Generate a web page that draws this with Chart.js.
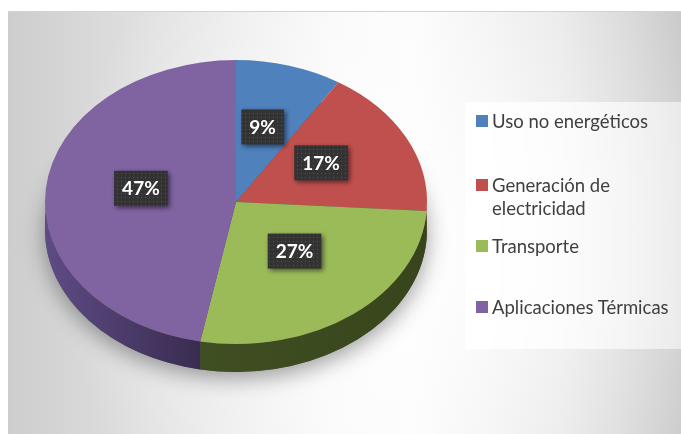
<!DOCTYPE html>
<html lang="es">
<head>
<meta charset="utf-8">
<title>Consumo de energía por uso</title>
<script src="https://cdn.jsdelivr.net/npm/chart.js@4.4.1/dist/chart.umd.min.js"></script>
<style>
    html, body { margin: 0; padding: 0; background: #fff; }
    body { width: 681px; height: 434px; overflow: hidden; position: relative; font-family: Lato, "Open Sans", sans-serif; }
    .panel {
        position: absolute; left: 8px; top: 11px; width: 673px; height: 423px;
        border-top: 1px solid #d2d2d2;
        background:
            radial-gradient(ellipse 70% 120% at 60% 55%, rgba(255,255,255,0.9) 0%, rgba(255,255,255,0.4) 40%, rgba(255,255,255,0) 75%),
            linear-gradient(to right, #cdcdcd 0%, #e2e2e2 22%, #f8f8f8 48%, #fbfbfb 60%, #e6e6e6 82%, #c9c9c9 100%);
    }
    .chart-wrap { position: absolute; left: 0; top: 0; width: 681px; height: 434px; }
    .leyenda {
        position: absolute; left: 465px; top: 102px; width: 216px; height: 247px;
        background: linear-gradient(to right, rgba(255,255,255,0.92), rgba(255,255,255,0.55));
    }
    .item { position: absolute; left: 11px; display: flex; align-items: flex-start; font-size: 18.5px; line-height: 23px; color: #404040; }
    .item .cuadro { width: 12px; height: 12px; margin: 5.5px 4px 0 0; flex: none; }
    .item .txt { width: 190px; }
</style>
</head>
<body>
<div class="panel"></div>
<div class="chart-wrap"><canvas id="chartUsos"></canvas></div>
<div class="leyenda" id="leyenda"></div>

<script>
// Datos del gráfico
const categorias = ["Uso no energéticos", "Generación de electricidad", "Transporte", "Aplicaciones Térmicas"];
const porcentajes = [9, 17, 27, 47];
const colores = ["#4F81BD", "#C0504D", "#9BBB59", "#8064A2"];
// Colores del canto (claro -> oscuro) para el efecto 3D
const coloresCanto = [
    ["#30588c", "#213d62"],
    ["#8c3432", "#602221"],
    ["#404f22", "#38451c"],
    ["#5e4b85", "#3a2c50"]
];

const INCLINACION = 0.743;   // aplastamiento vertical del disco
const GROSOR = 28;           // alto del canto en px

// Textura punteada para las etiquetas
function crearTrama(ctx) {
    const c = document.createElement("canvas");
    c.width = 4; c.height = 4;
    const g = c.getContext("2d");
    g.fillStyle = "#333333";
    g.fillRect(0, 0, 4, 4);
    g.fillStyle = "#55554a";
    g.fillRect(1, 1, 1, 1);
    return ctx.createPattern(c, "repeat");
}

/* =====================================================
   PLUGIN: TORTA 3D (canto + aplastado + etiquetas)
===================================================== */
const torta3D = {
    id: "torta3D",
    beforeDatasetsDraw(chart) {
        const ctx = chart.ctx;
        const arcos = chart.getDatasetMeta(0).data;
        if (!arcos.length) return;
        const { x: cx, y: cy, outerRadius: r } = arcos[0];
        const ry = r * INCLINACION;

        // sombra bajo el disco
        ctx.save();
        ctx.shadowColor = "rgba(0,0,0,0.38)";
        ctx.shadowBlur = 22;
        ctx.shadowOffsetY = 6;
        ctx.fillStyle = "#555";
        ctx.beginPath();
        ctx.ellipse(cx, cy + GROSOR, r, ry, 0, 0, Math.PI * 2);
        ctx.fill();
        ctx.restore();

        // canto visible (mitad frontal)
        arcos.forEach((arc, i) => {
            const a0 = Math.max(arc.startAngle, 0);
            const a1 = Math.min(arc.endAngle, Math.PI);
            if (a1 <= a0) return;
            const x0 = cx + r * Math.cos(a0);
            const x1 = cx + r * Math.cos(a1);
            const grad = ctx.createLinearGradient(Math.min(x0, x1), 0, Math.max(x0, x1), 0);
            const [claro, oscuro] = coloresCanto[i];
            // el lado izquierdo queda más iluminado
            grad.addColorStop(0, x1 < x0 ? claro : oscuro);
            grad.addColorStop(1, x1 < x0 ? oscuro : claro);
            ctx.save();
            ctx.fillStyle = grad;
            ctx.beginPath();
            ctx.ellipse(cx, cy, r, ry, 0, a0, a1);
            ctx.ellipse(cx, cy + GROSOR, r, ry, 0, a1, a0, true);
            ctx.closePath();
            ctx.fill();
            ctx.restore();
        });

        // cara superior aplastada
        ctx.save();
        ctx.translate(cx, cy);
        ctx.scale(1, INCLINACION);
        ctx.translate(-cx, -cy);
    },
    afterDatasetsDraw(chart) {
        const ctx = chart.ctx;
        ctx.restore();

        const arcos = chart.getDatasetMeta(0).data;
        if (!arcos.length) return;
        const cy = arcos[0].y;
        const datos = chart.data.datasets[0].data;
        const total = datos.reduce((a, b) => a + b, 0);
        const trama = crearTrama(ctx);

        arcos.forEach((arc, i) => {
            const valor = datos[i];
            if (!valor) return;
            const texto = Math.round((valor / total) * 100) + "%";
            const pos = arc.tooltipPosition();
            const px = pos.x;
            const py = cy + (pos.y - cy) * INCLINACION - 7;

            ctx.save();
            ctx.font = "bold 19px Lato";
            const w = ctx.measureText(texto).width + 16;
            const h = 35;
            ctx.shadowColor = "rgba(0,0,0,0.55)";
            ctx.shadowBlur = 5;
            ctx.shadowOffsetX = 2;
            ctx.shadowOffsetY = 2;
            ctx.fillStyle = trama;
            ctx.fillRect(px - w / 2, py - h / 2, w, h);
            ctx.shadowColor = "transparent";
            ctx.fillStyle = "#ffffff";
            ctx.textAlign = "center";
            ctx.textBaseline = "middle";
            ctx.fillText(texto, px, py + 1);
            ctx.restore();
        });
    }
};

/* =====================================================
   LEYENDA
===================================================== */
function renderLeyenda() {
    const cont = document.getElementById("leyenda");
    const tops = [7.5, 71.5, 132.5, 193.5];
    categorias.forEach((cat, i) => {
        const item = document.createElement("div");
        item.className = "item";
        item.style.top = tops[i] + "px";
        item.innerHTML = `<span class="cuadro" style="background:${colores[i]}"></span><span class="txt">${cat}</span>`;
        cont.appendChild(item);
    });
}

/* =====================================================
   GRÁFICO
===================================================== */
function renderTorta() {
    const ctx = document.getElementById("chartUsos").getContext("2d");
    new Chart(ctx, {
        type: "pie",
        data: {
            labels: categorias,
            datasets: [{
                data: porcentajes,
                backgroundColor: colores,
                borderWidth: 0,
                hoverOffset: 0
            }]
        },
        options: {
            responsive: true,
            maintainAspectRatio: false,
            animation: false,
            events: [],
            layout: { padding: { left: 45, right: 254, top: 11, bottom: 41 } },
            plugins: {
                legend: { display: false },
                tooltip: { enabled: false }
            }
        },
        plugins: [torta3D]
    });
}

renderLeyenda();
renderTorta();
</script>
</body>
</html>
